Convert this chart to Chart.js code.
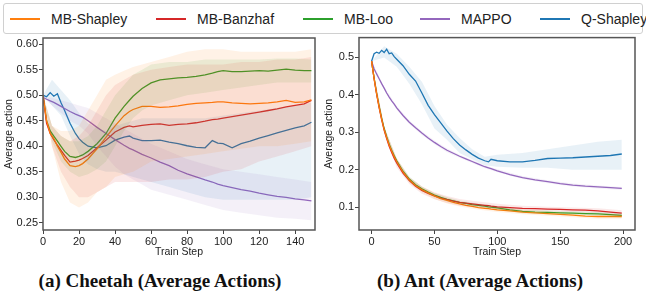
<!DOCTYPE html>
<html>
<head>
<meta charset="utf-8">
<script src="https://cdn.jsdelivr.net/npm/chart.js@4.4.1/dist/chart.umd.min.js"></script>
<style>
  body { margin:0; width:646px; height:297px; background:#fff; position:relative; overflow:hidden; font-family:"Liberation Sans", Arial, sans-serif; }
  #legend { position:absolute; left:3px; top:3px; width:640px; height:31px; border:1px solid #d0d0d0; border-radius:3px; box-sizing:border-box; }
  .swatch { position:absolute; top:17px; width:30px; height:2px; }
  .label { position:absolute; top:10px; font-size:14px; line-height:16px; color:#222; white-space:nowrap; }
  canvas { position:absolute; top:30px; }
  .caption { position:absolute; top:270px; font-family:"Liberation Serif", serif; font-weight:bold; font-size:19px; line-height:22px; color:#111; white-space:nowrap; transform:translateX(-50%); }
</style>
</head>
<body>
<div id="legend"></div>
<canvas id="cheetah" width="320" height="232" style="left:0px"></canvas>
<canvas id="ant" width="326" height="232" style="left:320px"></canvas>
<div class="caption" style="left:160px">(a) Cheetah (Average Actions)</div>
<div class="caption" style="left:480px">(b) Ant (Average Actions)</div>
<script>
// series names / colours (matplotlib tab10)
const names = ['MB-Shapley', 'MB-Banzhaf', 'MB-Loo', 'MAPPO', 'Q-Shapley'];
const colors = ['#ff7f0e', '#d62728', '#2ca02c', '#9467bd', '#1f77b4'];

// ---- Cheetah (left) ----
const cheetahSteps = [0,2,4,6,8,10,12,15,18,20,22,25,30,35,40,45,48,50,55,60,65,70,75,80,85,90,94,97,100,105,110,115,120,125,130,135,140,145,149];
const cheetahShapley = [.500,.450,.425,.415,.400,.388,.375,.362,.360,.362,.366,.375,.395,.418,.440,.460,.468,.472,.478,.478,.476,.477,.479,.482,.484,.485,.486,.487,.487,.485,.484,.483,.484,.485,.487,.490,.486,.487,.491];
const cheetahBanzhaf = [.500,.445,.425,.413,.402,.392,.382,.369,.371,.373,.376,.382,.397,.412,.428,.437,.440,.438,.441,.443,.444,.441,.443,.444,.446,.449,.452,.453,.455,.458,.461,.464,.467,.470,.473,.477,.480,.483,.490];
const cheetahLoo = [.500,.450,.430,.420,.410,.400,.390,.380,.378,.380,.383,.390,.405,.425,.455,.478,.490,.498,.513,.524,.530,.532,.534,.535,.537,.540,.543,.546,.548,.546,.546,.547,.548,.547,.549,.551,.549,.548,.548];
const cheetahMappo = [.496,.492,.489,.486,.482,.478,.474,.468,.463,.460,.457,.450,.437,.425,.413,.402,.396,.393,.384,.377,.369,.362,.353,.346,.340,.334,.330,.326,.323,.319,.315,.312,.308,.305,.302,.300,.297,.295,.293];
const cheetahQShapley = [.500,.497,.505,.498,.503,.485,.470,.445,.425,.415,.408,.400,.397,.401,.412,.418,.420,.416,.411,.411,.412,.408,.405,.401,.398,.397,.411,.406,.405,.397,.405,.410,.416,.421,.426,.431,.436,.440,.447];

const cheetahBandSteps = [0,5,10,15,20,25,30,35,40,45,50,55,60,70,80,90,100,110,120,130,140,149];
const cheetahShapleyHi = [.50,.44,.43,.43,.44,.47,.50,.53,.54,.548,.555,.56,.565,.575,.585,.59,.59,.585,.585,.585,.585,.59];
const cheetahShapleyLo = [.50,.40,.33,.29,.28,.29,.31,.32,.34,.345,.35,.36,.37,.375,.38,.385,.39,.395,.40,.40,.405,.41];
const cheetahBanzhafHi = [.50,.44,.42,.41,.42,.44,.47,.50,.52,.53,.54,.545,.55,.555,.56,.56,.56,.565,.565,.57,.57,.575];
const cheetahBanzhafLo = [.50,.40,.35,.32,.30,.30,.31,.32,.33,.33,.33,.33,.33,.335,.335,.34,.35,.355,.37,.38,.39,.40];
const cheetahLooHi = [.50,.44,.42,.41,.41,.42,.44,.47,.50,.52,.54,.55,.56,.565,.565,.57,.57,.57,.57,.572,.572,.57];
const cheetahLooLo = [.50,.41,.37,.35,.34,.345,.355,.37,.40,.43,.455,.47,.48,.49,.50,.505,.51,.515,.52,.525,.525,.525];
const cheetahMappoHi = [.496,.495,.49,.485,.48,.475,.465,.455,.445,.435,.425,.415,.405,.39,.375,.365,.355,.35,.345,.34,.335,.33];
const cheetahMappoLo = [.496,.48,.465,.45,.44,.425,.40,.38,.36,.345,.335,.325,.315,.305,.295,.285,.275,.27,.265,.26,.258,.255];
const cheetahQShapleyHi = [.50,.53,.51,.49,.465,.445,.435,.43,.44,.445,.45,.455,.455,.455,.455,.455,.46,.465,.47,.475,.48,.485];
const cheetahQShapleyLo = [.50,.48,.46,.42,.385,.365,.355,.35,.35,.345,.34,.335,.33,.32,.31,.30,.295,.295,.295,.295,.295,.30];

const cheetahXTicks = [0,20,40,60,80,100,120,140];
const cheetahYTicks = [0.25,0.30,0.35,0.40,0.45,0.50,0.55,0.60];

// ---- Ant (right) ----
const antSteps = [0,2,4,6,8,10,12,14,16,18,20,25,30,35,40,45,50,55,60,65,70,75,80,85,90,93,95,100,110,120,130,140,150,160,170,180,190,199];
const antShapley = [.490,.444,.404,.368,.336,.308,.286,.266,.250,.235,.222,.194,.173,.158,.147,.138,.130,.123,.118,.113,.109,.105,.102,.099,.097,.096,.095,.093,.090,.087,.085,.083,.081,.079,.076,.075,.075,.075];
const antBanzhaf = [.490,.443,.402,.366,.334,.306,.283,.263,.246,.231,.218,.191,.171,.156,.145,.137,.130,.124,.120,.116,.113,.111,.109,.107,.105,.104,.103,.101,.099,.097,.096,.095,.094,.093,.092,.090,.087,.084];
const antLoo = [.490,.445,.405,.370,.338,.310,.288,.268,.252,.237,.224,.196,.175,.160,.149,.140,.132,.126,.121,.117,.113,.110,.107,.105,.103,.101,.100,.098,.093,.089,.087,.086,.085,.084,.083,.082,.080,.078];
const antMappo = [.490,.470,.456,.443,.430,.418,.405,.394,.384,.375,.365,.345,.327,.312,.298,.285,.273,.262,.252,.244,.236,.229,.222,.215,.208,.205,.203,.197,.187,.179,.173,.168,.163,.159,.156,.154,.152,.150];
const antQShapley = [.490,.510,.514,.511,.519,.513,.522,.510,.512,.502,.495,.478,.455,.437,.405,.372,.347,.325,.303,.283,.266,.253,.241,.231,.224,.221,.228,.224,.221,.221,.225,.230,.231,.232,.234,.236,.238,.242];

const antBandSteps = [0,10,20,30,40,50,60,70,80,90,100,120,140,160,180,199];
const antShapleyHi = [.49,.315,.23,.18,.155,.138,.126,.116,.108,.103,.099,.093,.089,.086,.082,.081];
const antShapleyLo = [.49,.30,.213,.165,.14,.122,.110,.102,.096,.091,.087,.081,.077,.073,.069,.069];
const antBanzhafHi = [.49,.315,.23,.18,.155,.14,.13,.122,.117,.113,.109,.104,.101,.099,.097,.092];
const antBanzhafLo = [.49,.297,.206,.162,.136,.121,.111,.104,.101,.097,.093,.090,.089,.087,.083,.076];
const antLooHi = [.49,.316,.23,.182,.155,.138,.127,.118,.112,.108,.103,.094,.091,.089,.087,.084];
const antLooLo = [.49,.304,.218,.168,.143,.126,.115,.108,.102,.098,.093,.084,.081,.079,.077,.072];
const antMappoHi = [.49,.422,.37,.332,.303,.278,.257,.240,.226,.212,.201,.183,.172,.163,.158,.154];
const antMappoLo = [.49,.414,.36,.322,.293,.268,.247,.232,.218,.204,.193,.175,.164,.155,.150,.146];
const antQShapleyHi = [.49,.53,.51,.475,.435,.37,.32,.285,.255,.235,.24,.245,.255,.265,.275,.28];
const antQShapleyLo = [.49,.50,.475,.43,.375,.31,.28,.245,.228,.212,.208,.205,.205,.20,.20,.20];

const antXTicks = [0,50,100,150,200];
const antYTicks = [0.1,0.2,0.3,0.4,0.5];

// legend (layout only)
const legendX = [6, 152, 299, 416, 536];
const legend = document.getElementById('legend');
names.forEach((n, i) => {
  const sw = document.createElement('div');
  sw.className = 'swatch';
  sw.style.left = legendX[i] + 'px';
  sw.style.top = '14px';
  sw.style.background = colors[i];
  legend.appendChild(sw);
  const lb = document.createElement('div');
  lb.className = 'label';
  lb.style.left = (legendX[i] + 41) + 'px';
  lb.style.top = '7px';
  lb.textContent = n;
  legend.appendChild(lb);
});

Chart.defaults.font.family = '"Liberation Sans", Arial, sans-serif';

function hexA(hex, a) {
  const r = parseInt(hex.slice(1,3),16), g = parseInt(hex.slice(3,5),16), b = parseInt(hex.slice(5,7),16);
  return `rgba(${r},${g},${b},${a})`;
}
function pts(xs, ys) { return xs.map((x, i) => ({x: x, y: ys[i]})); }

function bandSets(xs, hi, lo, color, alpha) {
  return [
    { data: pts(xs, hi), borderWidth: 0, borderColor: 'transparent', pointRadius: 0, fill: '+1', backgroundColor: hexA(color, alpha) },
    { data: pts(xs, lo), borderWidth: 0, borderColor: 'transparent', pointRadius: 0, fill: false }
  ];
}
function lineSet(xs, ys, color) {
  return { data: pts(xs, ys), borderColor: color, borderWidth: 1.3, pointRadius: 0, fill: false, tension: 0 };
}

// matplotlib style frame round the axes
const frame = {
  id: 'frame',
  afterDraw(chart) {
    const a = chart.chartArea, c = chart.ctx;
    c.save();
    c.strokeStyle = '#555';
    c.lineWidth = 1.5;
    c.strokeRect(a.left, a.top, a.right - a.left, a.bottom - a.top);
    c.restore();
  }
};

function makeChart(id, datasets, o) {
  new Chart(document.getElementById(id), {
    type: 'line',
    data: { datasets: datasets },
    plugins: [frame],
    options: {
      responsive: false,
      animation: false,
      devicePixelRatio: 1,
      layout: { padding: { top: o.padTop, right: o.padRight, left: 0, bottom: 0 } },
      plugins: { legend: { display: false }, tooltip: { enabled: false } },
      scales: {
        x: {
          type: 'linear', min: o.xMin, max: o.xMax,
          afterBuildTicks: s => { s.ticks = o.xTicks.map(v => ({ value: v })); },
          afterFit: s => { s.height = 32; },
          grid: { drawOnChartArea: false, tickLength: 4, color: '#444' },
          border: { display: false },
          ticks: { font: { size: 11 }, color: '#222', padding: 1, maxRotation: 0, autoSkip: false },
          title: { display: true, text: 'Train Step', font: { size: 10.5 }, color: '#222', padding: { top: 0, bottom: 4 } }
        },
        y: {
          type: 'linear', min: o.yMin, max: o.yMax,
          afterBuildTicks: s => { s.ticks = o.yTicks.map(v => ({ value: v })); },
          afterFit: s => { s.width = o.yWidth; },
          grid: { drawOnChartArea: false, tickLength: 4, color: '#444' },
          border: { display: false },
          ticks: { font: { size: 11 }, color: '#222', padding: 1, callback: v => v.toFixed(o.yDigits) },
          title: { display: true, text: 'Average action', font: { size: 10.5 }, color: '#222', padding: { top: 3, bottom: 0 } }
        }
      }
    }
  });
}

const cheetahMeans = [cheetahShapley, cheetahBanzhaf, cheetahLoo, cheetahMappo, cheetahQShapley];
const cheetahHi = [cheetahShapleyHi, cheetahBanzhafHi, cheetahLooHi, cheetahMappoHi, cheetahQShapleyHi];
const cheetahLo = [cheetahShapleyLo, cheetahBanzhafLo, cheetahLooLo, cheetahMappoLo, cheetahQShapleyLo];
let cheetahSets = [];
colors.forEach((c, i) => { cheetahSets = cheetahSets.concat(bandSets(cheetahBandSteps, cheetahHi[i], cheetahLo[i], c, 0.1)); });
colors.forEach((c, i) => { cheetahSets.push(lineSet(cheetahSteps, cheetahMeans[i], c)); });

makeChart('cheetah', cheetahSets, {
  xMin: 0, xMax: 151, yMin: 0.236, yMax: 0.612, xTicks: cheetahXTicks, yTicks: cheetahYTicks,
  yDigits: 2, yWidth: 43, padTop: 8, padRight: 5
});

const antMeans = [antShapley, antBanzhaf, antLoo, antMappo, antQShapley];
const antHi = [antShapleyHi, antBanzhafHi, antLooHi, antMappoHi, antQShapleyHi];
const antLo = [antShapleyLo, antBanzhafLo, antLooLo, antMappoLo, antQShapleyLo];
let antSets = [];
colors.forEach((c, i) => { antSets = antSets.concat(bandSets(antBandSteps, antHi[i], antLo[i], c, 0.1)); });
colors.forEach((c, i) => { antSets.push(lineSet(antSteps, antMeans[i], c)); });

makeChart('ant', antSets, {
  xMin: -10, xMax: 209.5, yMin: 0.039, yMax: 0.553, xTicks: antXTicks, yTicks: antYTicks,
  yDigits: 1, yWidth: 39, padTop: 4, padRight: 11
});
</script>
</body>
</html>
